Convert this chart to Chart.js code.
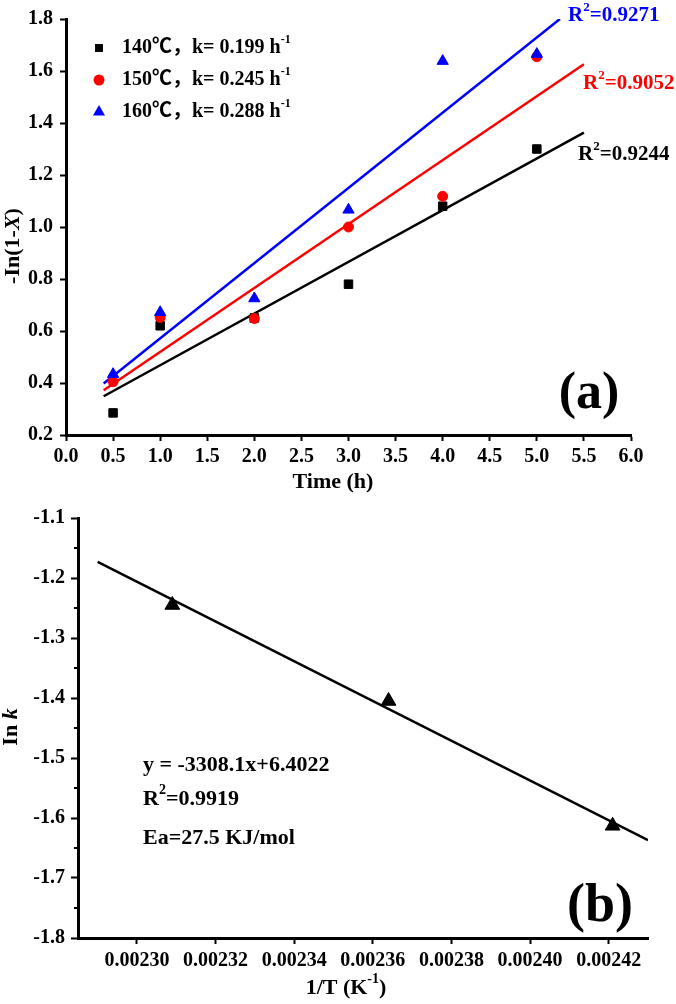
<!DOCTYPE html>
<html>
<head>
<meta charset="utf-8">
<script src="https://cdn.jsdelivr.net/npm/chart.js@4.4.1/dist/chart.umd.min.js"></script>
<style>
  body { margin: 0; background: #fff; }
  canvas { display: block; }
</style>
</head>
<body>
<canvas id="chartA" width="676" height="500"></canvas>
<canvas id="chartB" width="676" height="504"></canvas>
<script>
// ==========================
// DATA (a): -ln(1-X) vs time
// ==========================
const timeH = [0.5, 1, 2, 3, 4, 5];
const y140 = [0.285, 0.62, 0.65, 0.78, 1.08, 1.30];
const y150 = [0.405, 0.652, 0.648, 1.0, 1.118, 1.655];
const y160 = [0.434, 0.672, 0.725, 1.066, 1.638, 1.665];

const fitX140 = [0.4, 5.5];
const fitY140 = [0.349, 1.363];
const fitX150 = [0.4, 5.5];
const fitY150 = [0.372, 1.626];
const fitX160 = [0.4, 5.245];
const fitY160 = [0.398, 1.80];

const xTicksA = [0, 6, 0.5];     // min, max, step
const yTicksA = [0.2, 1.8, 0.2];

// ==========================
// DATA (b): ln k vs 1/T
// ==========================
const invT = [0.002309, 0.002364, 0.002421];
const lnK = [-1.245, -1.405, -1.613];
const fitInvT = [0.00229, 0.00243];
const fitLnK = [-1.173, -1.637];

const xTicksB = [0.002285, 0.00243, 0.00002];
const yTicksB = [-1.8, -1.1, 0.1];
const yMinorB = [-1.75, -1.65, -1.55, -1.45, -1.35, -1.25, -1.15];

// ==========================
// HELPERS
// ==========================
const SERIF = '"Liberation Serif", "Noto Sans CJK SC", serif';

function pts(xs, ys) {
    return xs.map((x, i) => ({ x: x, y: ys[i] }));
}

// parts: [text, style]  style: '' | 'i' | 'sup'
function richText(ctx, parts, x, y, size, color, align, rotate) {
    const fontFor = p => (p[1] === 'i' ? 'italic ' : '') + 'bold ' +
        (p[1] === 'sup' ? Math.round(size * 0.62) : size) + 'px ' + SERIF;
    ctx.save();
    ctx.translate(x, y);
    if (rotate) ctx.rotate(-Math.PI / 2);
    let w = 0;
    parts.forEach(p => { ctx.font = fontFor(p); w += ctx.measureText(p[0]).width; });
    let cx = align === 'center' ? -w / 2 : (align === 'right' ? -w : 0);
    ctx.fillStyle = color;
    ctx.textAlign = 'left';
    ctx.textBaseline = 'middle';
    parts.forEach(p => {
        ctx.font = fontFor(p);
        ctx.fillText(p[0], cx, p[1] === 'sup' ? -size * 0.38 : 0);
        cx += ctx.measureText(p[0]).width;
    });
    ctx.restore();
}

function marker(ctx, style, x, y, r, color) {
    ctx.save();
    ctx.fillStyle = color;
    ctx.beginPath();
    if (style === 'rect') {
        ctx.rect(x - r * 0.72, y - r * 0.72, r * 1.44, r * 1.44);
    } else if (style === 'circle') {
        ctx.arc(x, y, r, 0, Math.PI * 2);
    } else {
        ctx.moveTo(x, y - r);
        ctx.lineTo(x + r * 0.866, y + r * 0.5);
        ctx.lineTo(x - r * 0.866, y + r * 0.5);
        ctx.closePath();
    }
    ctx.fill();
    ctx.restore();
}

function axisOpts(t, fmt, width, height, tickLen, pad) {
    const o = {
        type: 'linear',
        min: t[0],
        max: t[1],
        ticks: {
            stepSize: t[2],
            includeBounds: false,
            color: '#000',
            padding: pad,
            font: { family: SERIF, weight: 'bold', size: 20 },
            callback: v => v.toFixed(fmt)
        },
        grid: {
            drawOnChartArea: false,
            drawTicks: true,
            tickLength: tickLen,
            tickWidth: 2,
            tickColor: '#000'
        },
        border: { display: true, color: '#000', width: 3 }
    };
    if (width) o.afterFit = s => { s.width = width; };
    if (height) o.afterFit = s => { s.height = height; };
    return o;
}

// ==========================
// GRAFIK (a)
// ==========================
const textPluginA = {
    id: 'textA',
    afterDraw(chart) {
        const ctx = chart.ctx;
        // legend
        const legend = [
            ['rect', '#000', '140', '0.199'],
            ['circle', '#ff0000', '150', '0.245'],
            ['triangle', '#0000ff', '160', '0.288']
        ];
        legend.forEach((l, i) => {
            const yy = 48 + i * 32;
            marker(ctx, l[0], 99, yy, l[0] === 'triangle' ? 7 : 5.5, l[1]);
            richText(ctx, [[l[2] + '℃，k= ' + l[3] + ' h', ''], ['-1', 'sup']], 122, yy, 20, '#000', 'left');
        });
        // R2 labels
        richText(ctx, [['R', ''], ['2', 'sup'], ['=0.9271', '']], 568, 16, 21, '#0000ff', 'left');
        richText(ctx, [['R', ''], ['2', 'sup'], ['=0.9052', '']], 583, 84, 21, '#ff0000', 'left');
        richText(ctx, [['R', ''], ['2', 'sup'], ['=0.9244', '']], 578, 155, 21, '#000', 'left');
        // panel label
        richText(ctx, [['(a)', '']], 589, 395, 52, '#000', 'center');
        // axis titles
        richText(ctx, [['Time (h)', '']], 333, 482, 22, '#000', 'center');
        richText(ctx, [['-In(1-', ''], ['X', 'i'], [')', '']], 13, 246, 22, '#000', 'center', true);
    }
};

new Chart(document.getElementById('chartA'), {
    type: 'scatter',
    data: {
        datasets: [
            { data: pts(timeH, y160), pointStyle: 'triangle', pointRadius: 6.5, backgroundColor: '#0000ff', borderColor: '#0000ff', borderWidth: 1, order: 0 },
            { data: pts(timeH, y150), pointStyle: 'circle', pointRadius: 5, backgroundColor: '#ff0000', borderColor: '#ff0000', borderWidth: 1, order: 1 },
            { data: pts(timeH, y140), pointStyle: 'rect', pointRadius: 6, backgroundColor: '#000', borderColor: '#000', borderWidth: 1, order: 2 },
            { data: pts(fitX160, fitY160), showLine: true, pointRadius: 0, borderColor: '#0000ff', borderWidth: 2.5, order: 3 },
            { data: pts(fitX150, fitY150), showLine: true, pointRadius: 0, borderColor: '#ff0000', borderWidth: 2.5, order: 3 },
            { data: pts(fitX140, fitY140), showLine: true, pointRadius: 0, borderColor: '#000', borderWidth: 2.5, order: 3 }
        ]
    },
    options: {
        responsive: false,
        animation: false,
        layout: { padding: { top: 15, right: 45, bottom: 0, left: 0 } },
        plugins: { legend: { display: false }, tooltip: { enabled: false } },
        scales: {
            x: axisOpts(xTicksA, 1, 0, 65, 6, 4),
            y: axisOpts(yTicksA, 1, 66, 0, 6, 7)
        }
    },
    plugins: [textPluginA]
});

// ==========================
// GRAFIK (b)
// ==========================
const textPluginB = {
    id: 'textB',
    afterDraw(chart) {
        const ctx = chart.ctx;
        const ys = chart.scales.y;
        const left = chart.chartArea.left;
        // minor ticks
        ctx.save();
        ctx.strokeStyle = '#000';
        ctx.lineWidth = 2;
        yMinorB.forEach(v => {
            const py = ys.getPixelForValue(v);
            ctx.beginPath();
            ctx.moveTo(left - 4, py);
            ctx.lineTo(left, py);
            ctx.stroke();
        });
        ctx.restore();
        // equation texts
        richText(ctx, [['y = -3308.1x+6.4022', '']], 143, 265, 22, '#000', 'left');
        richText(ctx, [['R', ''], ['2', 'sup'], ['=0.9919', '']], 143, 299, 22, '#000', 'left');
        richText(ctx, [['Ea=27.5 KJ/mol', '']], 143, 338, 22, '#000', 'left');
        // panel label
        richText(ctx, [['(b)', '']], 600, 407, 54, '#000', 'center');
        // axis titles
        richText(ctx, [['1/T (K', ''], ['-1', 'sup'], [')', '']], 346, 488, 22, '#000', 'center');
        richText(ctx, [['In ', ''], ['k', 'i']], 11, 227, 22, '#000', 'center', true);
    }
};

new Chart(document.getElementById('chartB'), {
    type: 'scatter',
    data: {
        datasets: [
            { data: pts(invT, lnK), pointStyle: 'triangle', pointRadius: 8.5, backgroundColor: '#000', borderColor: '#000', borderWidth: 1, order: 0 },
            { data: pts(fitInvT, fitLnK), showLine: true, pointRadius: 0, borderColor: '#000', borderWidth: 2.5, order: 1 }
        ]
    },
    options: {
        responsive: false,
        animation: false,
        layout: { padding: { top: 18, right: 28, bottom: 0, left: 0 } },
        plugins: { legend: { display: false }, tooltip: { enabled: false } },
        scales: {
            x: axisOpts(xTicksB, 5, 0, 66, 6, 5),
            y: axisOpts(yTicksB, 1, 78, 0, 7, 6)
        }
    },
    plugins: [textPluginB]
});
</script>
</body>
</html>
